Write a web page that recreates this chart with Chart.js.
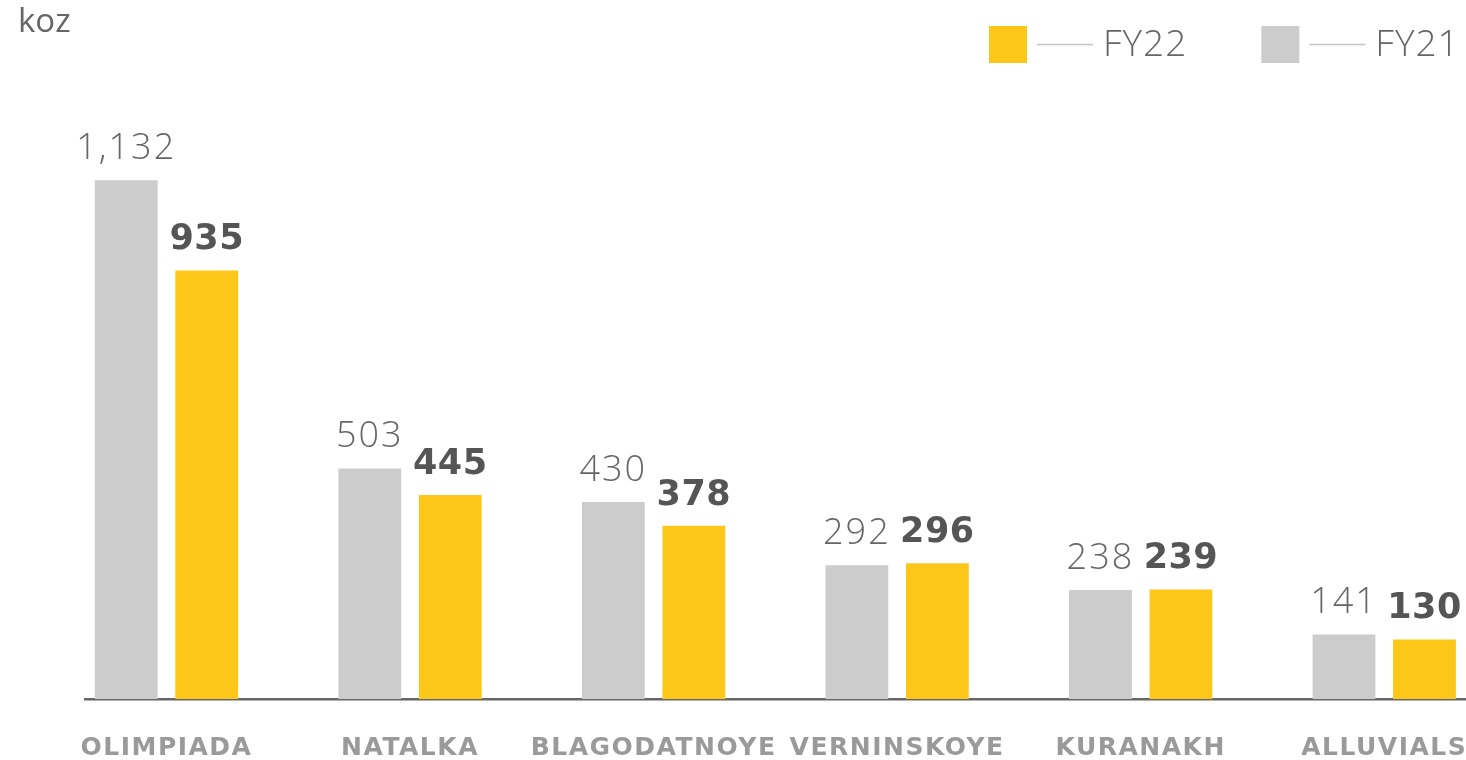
<!DOCTYPE html>
<html>
<head>
<meta charset="utf-8">
<script src="https://cdn.jsdelivr.net/npm/chart.js@4/dist/chart.umd.min.js"></script>
<style>
  html, body { margin: 0; padding: 0; background: #ffffff; overflow: hidden; }
  #wrap { width: 1466px; height: 760px; position: relative; }
</style>
</head>
<body>
<div id="wrap"><canvas id="c" width="1466" height="760"></canvas></div>
<script>
const categories = ["OLIMPIADA", "NATALKA", "BLAGODATNOYE", "VERNINSKOYE", "KURANAKH", "ALLUVIALS"];
const fy21 = [1132, 503, 430, 292, 238, 141];
const fy22 = [935, 445, 378, 296, 239, 130];
const seriesNames = ["FY21", "FY22"];
const unitLabel = "koz";

const GRAY = "#cccccc";
const YELLOW = "#fcc719";

function fmt(v) { return v.toLocaleString("en-US"); }

const valueLabels = {
  id: "valueLabels",
  afterDatasetsDraw(chart) {
    const ctx = chart.ctx;
    chart.data.datasets.forEach((ds, di) => {
      const meta = chart.getDatasetMeta(di);
      meta.data.forEach((bar, i) => {
        ctx.save();
        ctx.textAlign = "center";
        ctx.textBaseline = "alphabetic";
        if (di === 0) {
          ctx.font = "300 36px 'Open Sans'";
          ctx.fillStyle = "#666666";
          ctx.letterSpacing = "2px";
        } else {
          ctx.font = "bold 35px 'DejaVu Sans'";
          ctx.fillStyle = "#555555";
          ctx.letterSpacing = "0.5px";
        }
        ctx.fillText(fmt(ds.data[i].y), bar.x, bar.y - 21);
        ctx.restore();
      });
    });
  }
};

const customLegend = {
  id: "customLegend",
  afterDraw(chart) {
    const ctx = chart.ctx;
    ctx.save();
    ctx.font = "33px 'Open Sans'";
    ctx.fillStyle = "#666666";
    ctx.textAlign = "left";
    ctx.textBaseline = "alphabetic";
    ctx.fillText(unitLabel, 18, 32);
    let x = 989;
    const order = [1, 0];
    order.forEach((di) => {
      const ds = chart.data.datasets[di];
      ctx.fillStyle = ds.backgroundColor;
      ctx.fillRect(x, 26, 38, 37);
      ctx.strokeStyle = "#c4c4c4";
      ctx.lineWidth = 1.5;
      ctx.beginPath();
      ctx.moveTo(x + 48, 44.5);
      ctx.lineTo(x + 104, 44.5);
      ctx.stroke();
      ctx.font = "300 37px 'Open Sans'";
      ctx.letterSpacing = "1px";
      ctx.fillStyle = "#666666";
      ctx.fillText(ds.label, x + 114, 56);
      const w = ctx.measureText(ds.label).width;
      x = x + 114 + w + 74;
    });
    ctx.restore();
  }
};

const letterSpacer = {
  id: "letterSpacer",
  beforeDraw(chart) { chart.ctx.letterSpacing = "1.5px"; },
  beforeDatasetsDraw(chart) { chart.ctx.letterSpacing = "0px"; }
};

new Chart(document.getElementById("c"), {
  type: "bar",
  data: {
    datasets: [
      { label: seriesNames[0], data: fy21.map((v, i) => ({ x: i, y: v })), backgroundColor: GRAY },
      { label: seriesNames[1], data: fy22.map((v, i) => ({ x: i, y: v })), backgroundColor: YELLOW }
    ]
  },
  options: {
    responsive: false,
    animation: false,
    devicePixelRatio: 1,
    categoryPercentage: 0.661,
    barPercentage: 0.78,
    layout: { padding: { left: 85, right: 0, top: 149, bottom: 0 } },
    plugins: { legend: { display: false }, tooltip: { enabled: false } },
    scales: {
      x: {
        type: "linear",
        offset: false,
        min: -0.3346,
        max: 5.3357,
        grid: { display: false, drawTicks: false, offset: false },
        border: { display: true, color: "#666666", width: 2.5 },
        afterBuildTicks(scale) { scale.ticks = categories.map((c, i) => ({ value: i })); },
        afterFit(scale) {
          scale.height = 61;
          scale.paddingLeft = 0;
          scale.paddingRight = 0;
        },
        ticks: {
          autoSkip: false,
          maxRotation: 0,
          padding: 34,
          color: "#9a9a9a",
          font: { family: "'DejaVu Sans'", weight: "bold", size: 25 },
          callback: (v) => categories[v] !== undefined ? categories[v] : ""
        }
      },
      y: {
        display: false,
        min: 0,
        max: 1200
      }
    }
  },
  plugins: [letterSpacer, valueLabels, customLegend]
});
</script>
</body>
</html>
